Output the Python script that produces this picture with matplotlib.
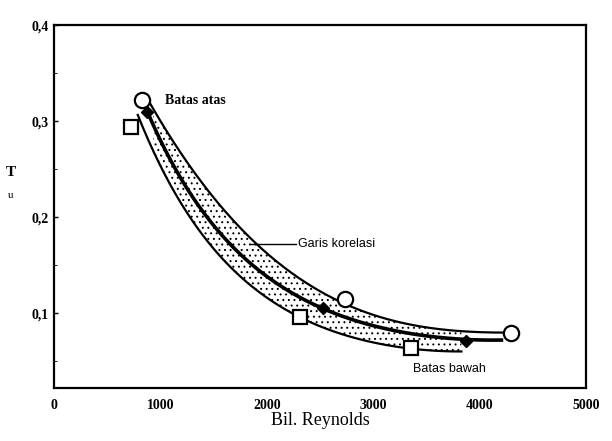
import numpy as np
import matplotlib.pyplot as plt
from matplotlib.ticker import FuncFormatter, MultipleLocator

plt.rcParams['font.family'] = ['Liberation Serif', 'DejaVu Serif']

# Markers (Bil. Reynolds, Tu)
re_atas = [830, 2730, 4290]          # Batas atas (circles)
tu_atas = [0.322, 0.115, 0.079]
re_bawah = [720, 2310, 3350]         # Batas bawah (squares)
tu_bawah = [0.294, 0.096, 0.064]
re_kor = [870, 2523, 3874]           # Garis korelasi (diamonds)
tu_kor = [0.310, 0.105, 0.071]

# Points
line_atas_re = [854, 1163, 1576, 1867, 2355, 2683, 3433, 3874, 4287]
line_atas_tu = [0.322, 0.280, 0.214, 0.175, 0.123, 0.113, 0.092, 0.081, 0.078]
line_kor_re = [872, 1088, 1370, 1604, 1839, 2233, 2523, 3058, 3874, 4203]
line_kor_tu = [0.312, 0.264, 0.207, 0.177, 0.152, 0.123, 0.105, 0.086, 0.071, 0.073]
line_bawah_re = [788, 1088, 1210, 1745, 2242, 2683, 3058, 3368, 3827]
line_bawah_tu = [0.306, 0.238, 0.207, 0.144, 0.095, 0.081, 0.068, 0.063, 0.060]

x_ticks = [0, 1000, 2000, 3000, 4000, 5000]
y_ticks = [0.1, 0.2, 0.3, 0.4]


def smooth(x, y, n=300, deg=3, log=True):
    x = np.asarray(x, float) / 1000.0
    y = np.log(y) if log else np.asarray(y, float)
    c = np.polyfit(x, y, deg)
    xn = np.linspace(x[0], x[-1], n)
    yn = np.polyval(c, xn)
    return xn * 1000.0, (np.exp(yn) if log else yn)


fig = plt.figure(figsize=(6.12, 4.41), dpi=100)
ax = fig.add_axes([0.088, 0.12, 0.870, 0.823])

xa, ya = smooth(line_atas_re, line_atas_tu, log=False)
xb, yb = smooth(line_bawah_re, line_bawah_tu)
xk, yk = smooth(line_kor_re, line_kor_tu)

# stippled band between the two bounds
xs = np.linspace(line_atas_re[0] + 80, line_bawah_re[-1], 300)
plt.rcParams['hatch.color'] = '0.4'
plt.rcParams['hatch.linewidth'] = 0.7
ax.fill_between(xs, np.interp(xs, xb, yb), np.interp(xs, xa, ya),
                facecolor='none', hatch='...', linewidth=0)

ax.plot(xa, ya, color='black', lw=1.6)
ax.plot(xb, yb, color='black', lw=1.6)
ax.plot(xk, yk, color='black', lw=2.6)

ax.plot(re_atas, tu_atas, 'o', ms=11, mfc='white', mec='black', mew=1.6)
ax.plot(re_bawah, tu_bawah, 's', ms=10, mfc='white', mec='black', mew=1.6)
ax.plot(re_kor, tu_kor, 'D', ms=6.5, color='black')

# annotations
ax.text(1040, 0.322, 'Batas atas', fontsize=10, fontweight='bold', va='center')
ax.plot([1850, 2270], [0.172, 0.172], color='black', lw=1.0)
ax.text(2290, 0.172, 'Garis korelasi', fontsize=9, va='center',
        family=['Liberation Sans', 'DejaVu Sans'])
ax.text(3370, 0.042, 'Batas bawah', fontsize=9, va='center',
        family=['Liberation Sans', 'DejaVu Sans'])

ax.set_xlim(0, 5000)
ax.set_ylim(0.022, 0.4)
ax.set_xticks(x_ticks)
ax.set_yticks(y_ticks)
ax.yaxis.set_minor_locator(MultipleLocator(0.05))
ax.yaxis.set_major_formatter(FuncFormatter(lambda v, p: f'{v:.1f}'.replace('.', ',')))
ax.tick_params(direction='in', length=3, labelsize=10, width=1)
ax.tick_params(axis='x', length=0, pad=8)
ax.tick_params(which='minor', direction='in', length=2)
for lab in ax.get_xticklabels() + ax.get_yticklabels():
    lab.set_fontweight('bold')
for s in ax.spines.values():
    s.set_linewidth(1.6)

ax.set_xlabel('Bil. Reynolds', fontsize=13, labelpad=0)
fig.text(0.018, 0.60, 'T', fontsize=11, fontweight='bold', ha='center')
fig.text(0.018, 0.552, 'u', fontsize=8, ha='center')

fig.savefig('out.png', dpi=100)
